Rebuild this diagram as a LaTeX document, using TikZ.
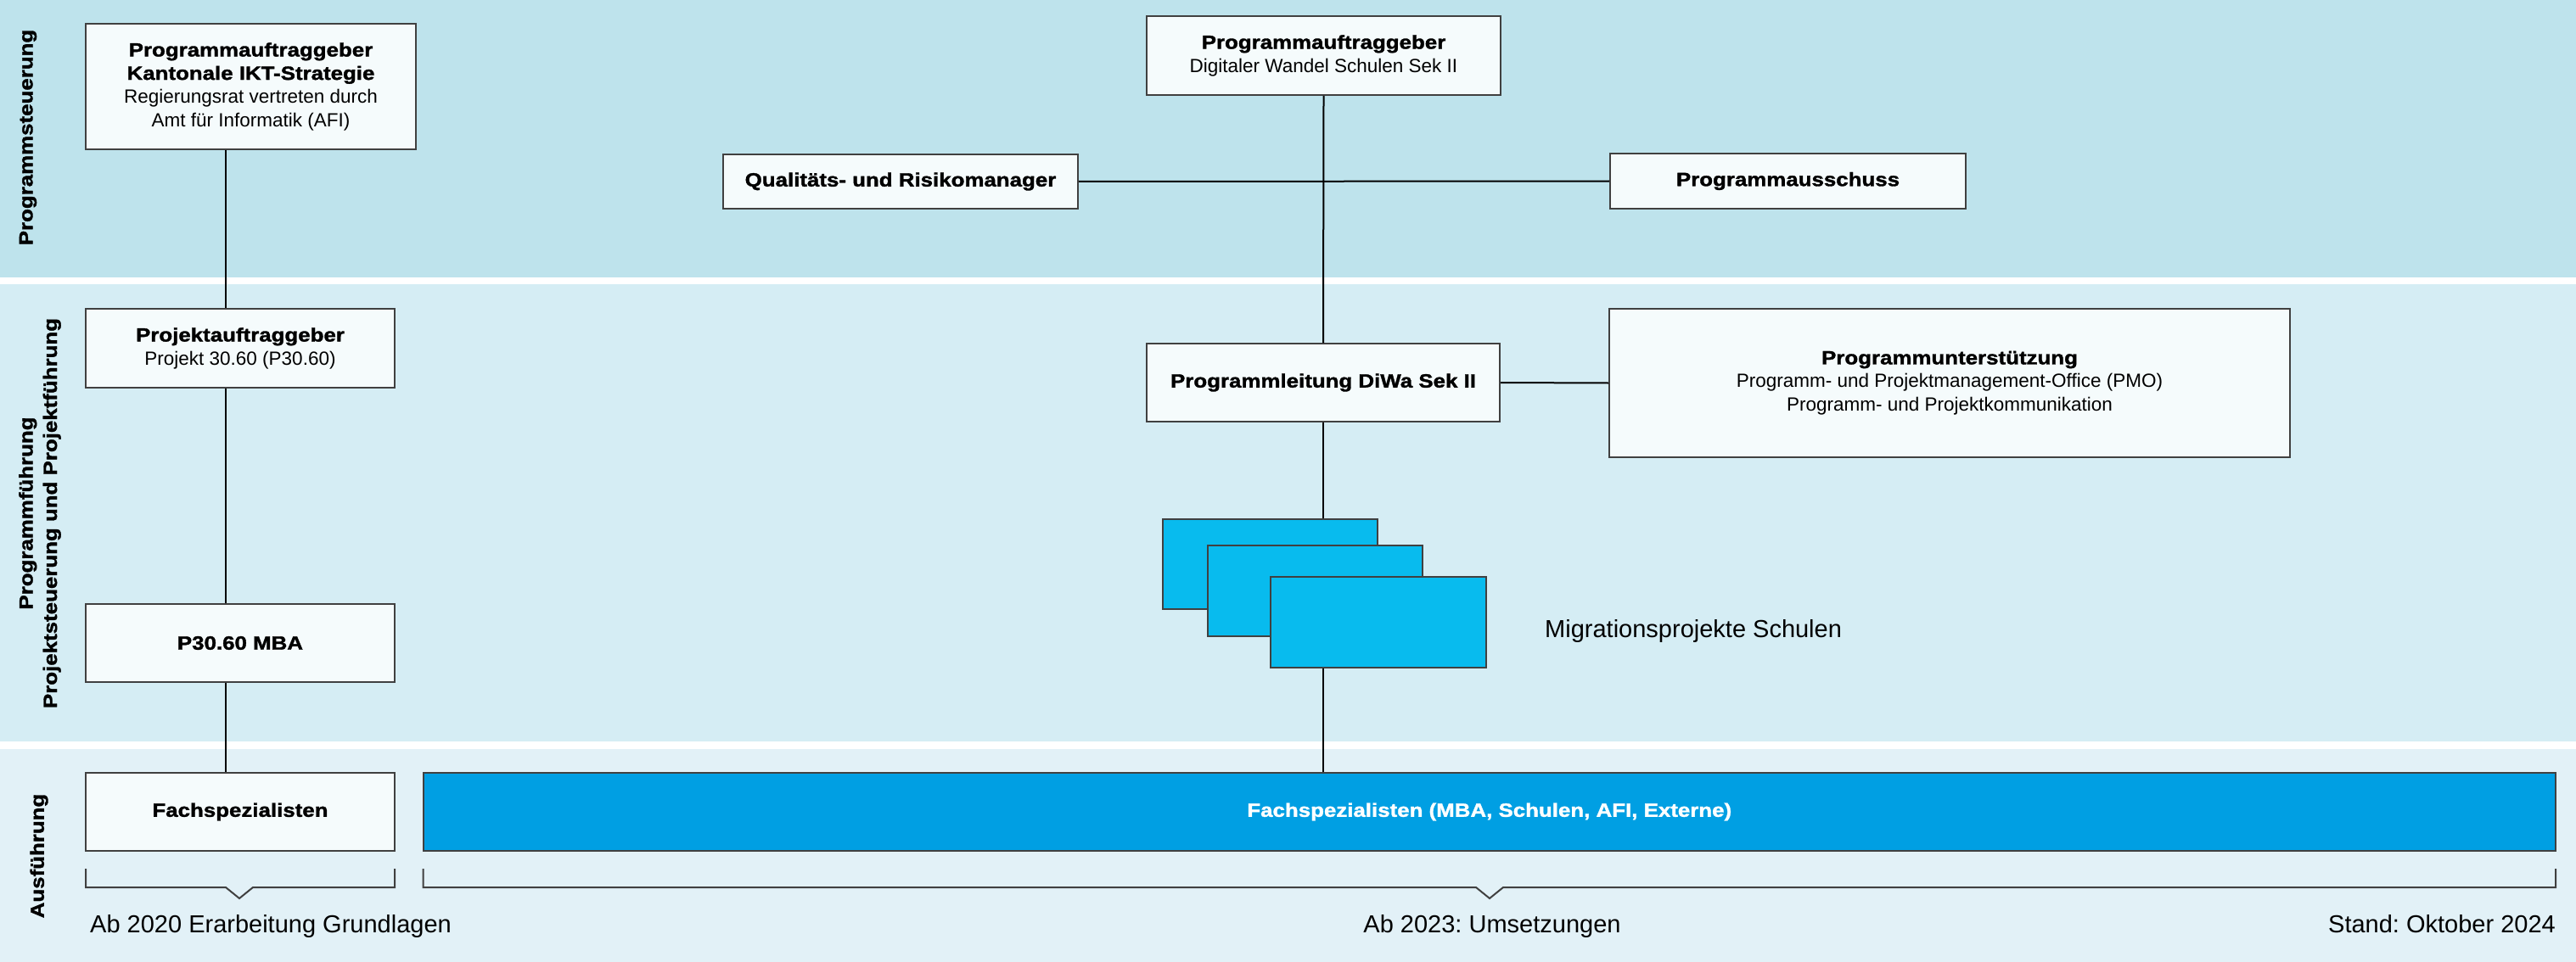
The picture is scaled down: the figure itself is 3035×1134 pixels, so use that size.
\documentclass[tikz,border=0pt]{standalone}
\usepackage{fontspec}
\setmainfont{Liberation Sans}
\newfontfamily\hbf{Liberation Sans}[FakeStretch=1.15,FakeBold=1.5]
\newcommand\mybold{\hbf\bfseries}
\frenchspacing
\definecolor{bandA}{RGB}{190,227,236}
\definecolor{bandB}{RGB}{213,237,244}
\definecolor{bandC}{RGB}{226,241,247}
\definecolor{boxfill}{RGB}{245,251,252}
\definecolor{boxline}{RGB}{64,64,64}
\definecolor{migblue}{RGB}{8,187,238}
\definecolor{barblue}{RGB}{0,159,227}
\tikzset{
  box/.style={draw=boxline, line width=2pt, fill=boxfill, inner sep=0pt, align=center,
    font=\fontsize{22.5}{27.5}\selectfont},
  migbox/.style={draw=boxline, line width=2pt, fill=migblue, inner sep=0pt},
  barbox/.style={draw=boxline, line width=2pt, fill=barblue, inner sep=0pt, text=white,
    font=\fontsize{22.5}{27.5}\selectfont\mybold},
  conn/.style={draw=black, line width=2pt},
  brack/.style={draw=boxline, line width=2pt},
  sidelabel/.style={rotate=90, align=center, inner sep=0pt,
    font=\fontsize{22.5}{28.5}\selectfont\mybold},
  plain/.style={inner sep=0pt, font=\fontsize{29}{34}\selectfont},
}
\begin{document}
\begin{tikzpicture}[x=1pt,y=-1pt]
\useasboundingbox (0,0) rectangle (3035,1134);
\fill[white] (0,0) rectangle (3035,1134);
\fill[bandA] (0,0) rectangle (3035,327);
\fill[bandB] (0,335) rectangle (3035,874);
\fill[bandC] (0,883) rectangle (3035,1134);

% side labels
\node[sidelabel] (lsteu) at (33,162) {Programmsteuerung};
\node[sidelabel] (lfuehr) at (47,605) {Programmführung\\Projektsteuerung und Projektführung};
\node[sidelabel] (laus) at (46,1009) {Ausführung};

% left column
\node[box, minimum width=389pt, minimum height=148pt] (pag1) at (295.5,102)
  {{\mybold Programmauftraggeber}\\{\mybold Kantonale IKT-Strategie}\\Regierungsrat vertreten durch\\Amt für Informatik (AFI)};
\node[box, minimum width=364pt, minimum height=93pt] (pjag) at (283,410.5)
  {{\mybold Projektauftraggeber}\\Projekt 30.60 (P30.60)};
\node[box, minimum width=364pt, minimum height=92pt] (mba) at (283,758) {\mybold P30.60 MBA};
\node[box, minimum width=364pt, minimum height=92pt] (fs) at (283,957) {\mybold Fachspezialisten};

% center column
\node[box, minimum width=417pt, minimum height=93pt] (pag2) at (1559.5,65.5)
  {{\mybold Programmauftraggeber}\\Digitaler Wandel Schulen Sek II};
\node[box, minimum width=418pt, minimum height=64pt] (qrm) at (1061,214)
  {\mybold Qualitäts- und Risikomanager};
\node[box, minimum width=419pt, minimum height=65pt] (pa) at (2106.5,213.5)
  {\mybold Programmausschuss};
\node[box, minimum width=416pt, minimum height=92pt] (pl) at (1559,451)
  {\mybold Programmleitung DiWa Sek II};
\node[box, minimum width=802pt, minimum height=175pt] (pu) at (2297,451.5)
  {{\mybold Programmunterstützung}\\Programm- und Projektmanagement-Office (PMO)\\Programm- und Projektkommunikation};

\node[migbox, minimum width=253pt, minimum height=106pt] (m1) at (1496.5,665) {};
\node[migbox, minimum width=253pt, minimum height=107pt] (m2) at (1549.5,696.5) {};
\node[migbox, minimum width=254pt, minimum height=107pt] (m3) at (1624,733.5) {};
\node[plain, anchor=base west] (miglab) at (1820,751) {Migrationsprojekte Schulen};

\node[barbox, minimum width=2512.5pt, minimum height=92pt] (bar) at (1754.75,957)
  {Fachspezialisten (MBA, Schulen, AFI, Externe)};

% connectors
\coordinate (lx) at (266,0);
\draw[conn] (pag1.south -| lx) -- (pjag.north -| lx);
\draw[conn] (pjag.south -| lx) -- (mba.north -| lx);
\draw[conn] (mba.south -| lx) -- (fs.north -| lx);
\draw[conn] (pag2.south) -- (pl.north);
\draw[conn] (qrm.east) -- (pa.west);
\draw[conn] (pl.east) -- (pu.west);
\draw[conn] (pl.south) -- (m1.north -| pl.south);
\draw[conn] (m3.south -| pl.south) -- (bar.north -| pl.south);

% brackets
\draw[brack] (101,1024) -- (101,1046) -- (266,1046) -- (282,1059) -- (298,1046) -- (465,1046) -- (465,1024);
\draw[brack] (498.5,1024) -- (498.5,1046) -- (1739,1046) -- (1755,1059) -- (1771,1046) -- (3011,1046) -- (3011,1024);

\node[plain, anchor=base west] (t2020) at (106,1099) {Ab 2020 Erarbeitung Grundlagen};
\node[plain, anchor=base] (t2023) at (1758,1099) {Ab 2023: Umsetzungen};
\node[plain, anchor=base east] (tstand) at (3011,1099) {Stand: Oktober 2024};
\end{tikzpicture}
\end{document}
